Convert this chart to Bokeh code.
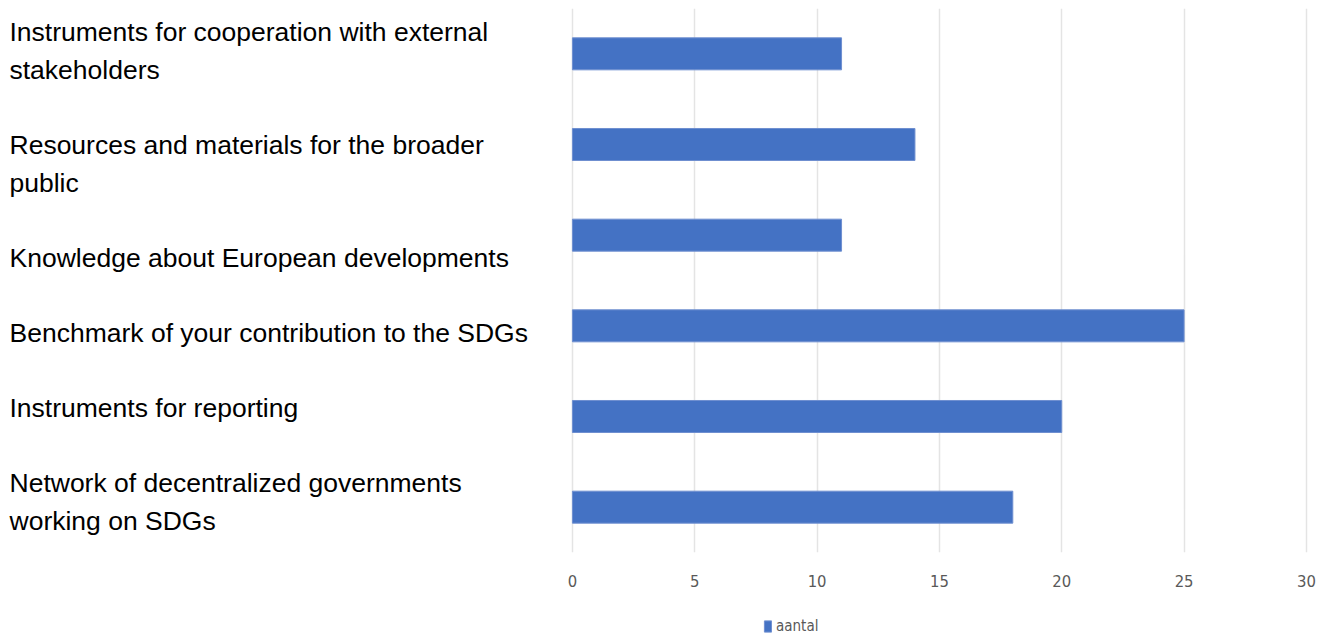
from bokeh.plotting import figure
from bokeh.layouts import column
from bokeh.models import ColumnDataSource, Range1d, FixedTicker, Legend, LegendItem
from bokeh.core.properties import value
from bokeh.embed import file_html
from bokeh.resources import INLINE

# ---- data ----
categories = [
    "Instruments for cooperation with external stakeholders",
    "Resources and materials for the broader public",
    "Knowledge about European developments",
    "Benchmark of your contribution to the SDGs",
    "Instruments for reporting",
    "Network of decentralized governments working on SDGs",
]
label_lines = [
    ["Instruments for cooperation with external", "stakeholders"],
    ["Resources and materials for the broader", "public"],
    ["Knowledge about European developments"],
    ["Benchmark of your contribution to the SDGs"],
    ["Instruments for reporting"],
    ["Network of decentralized governments", "working on SDGs"],
]
values = [11, 14, 11, 25, 20, 18]
series_name = "aantal"
x_ticks = [0, 5, 10, 15, 20, 25, 30]

# ---- layout constants ----
W = 1332
H_MAIN, H_LEG = 600, 38
PAD = 8
FRAME_H = 544
X_START, X_END = -23.05, 30.74
LINE_H = 37.6           # label text line pitch (px)
FIRST_BASE = 23.7       # first text line position from frame top (px)
NARROW = "'Liberation Sans Narrow', 'DejaVu Sans Condensed', sans-serif"

n = len(categories)
src = ColumnDataSource(dict(cat=categories, pos=list(range(n)), val=values))

p = figure(width=W, height=H_MAIN, output_backend="svg", toolbar_location=None,
           y_range=Range1d(n - 0.5, -0.5),
           x_range=Range1d(X_START, X_END),
           y_axis_location=None,
           min_border_left=PAD, min_border_right=PAD, min_border_top=PAD,
           min_border_bottom=H_MAIN - PAD - FRAME_H)
p.outline_line_color = None
p.background_fill_color = "white"
p.border_fill_color = "white"

p.ygrid.visible = False
p.xgrid.ticker = FixedTicker(ticks=x_ticks)
p.xgrid.grid_line_color = "#e4e4e4"
p.xgrid.grid_line_width = 1.5

ax = p.xaxis[0]
ax.ticker = FixedTicker(ticks=x_ticks)
ax.axis_line_color = None
ax.major_tick_line_color = None
ax.minor_tick_line_color = None
ax.major_label_standoff = 16
ax.major_label_text_font = NARROW
ax.major_label_text_font_size = "16.5px"
ax.major_label_text_color = "#595959"

bar_style = dict(fill_color="#4472C4", line_color="#6f8fd0", line_width=1)
p.hbar(y="pos", left=0, right="val", height=0.353, source=src, **bar_style)

# label text, line by line, one blank line between labels
rows_text, rows_line = [], []
k = 0
for lines in label_lines:
    for j, t in enumerate(lines):
        rows_text.append(t)
        rows_line.append(k + j)
    k += len(lines) + 1
lsrc = ColumnDataSource(dict(text=rows_text, line=rows_line))
top_v = -FIRST_BASE / LINE_H
p.extra_y_ranges = {"lines": Range1d(start=top_v + FRAME_H / LINE_H, end=top_v)}
p.text(x=X_START, y="line", text="text", source=lsrc, y_range_name="lines",
       text_align="left", text_baseline="alphabetic",
       text_font=value("Liberation Sans"), text_font_size="26.5px",
       text_color="#000000", x_offset=1)

# ---- legend strip below the chart ----
q = figure(width=W, height=H_LEG, output_backend="svg", toolbar_location=None,
           x_range=p.x_range, y_range=p.y_range,
           x_axis_location=None, y_axis_location=None,
           min_border_left=0, min_border_right=0, min_border_top=0, min_border_bottom=0)
q.outline_line_color = None
q.grid.visible = False
q.background_fill_color = "white"
q.border_fill_color = "white"
leg_r = q.hbar(y="pos", left=0, right="val", height=0.353, source=src, **bar_style)
leg_r.visible = False

lg = Legend(items=[LegendItem(label=series_name, renderers=[leg_r])],
            location=(755, 3), orientation="horizontal")
lg.border_line_color = None
lg.background_fill_alpha = 0
lg.padding = 0
lg.margin = 0
lg.glyph_width = 9
lg.glyph_height = 14
lg.label_height = 14
lg.label_standoff = 4
lg.label_text_font = NARROW
lg.label_text_font_size = "15px"
lg.label_text_color = "#595959"
q.add_layout(lg, "center")

open("out.html", "w").write(file_html(column(p, q, spacing=0), INLINE))
